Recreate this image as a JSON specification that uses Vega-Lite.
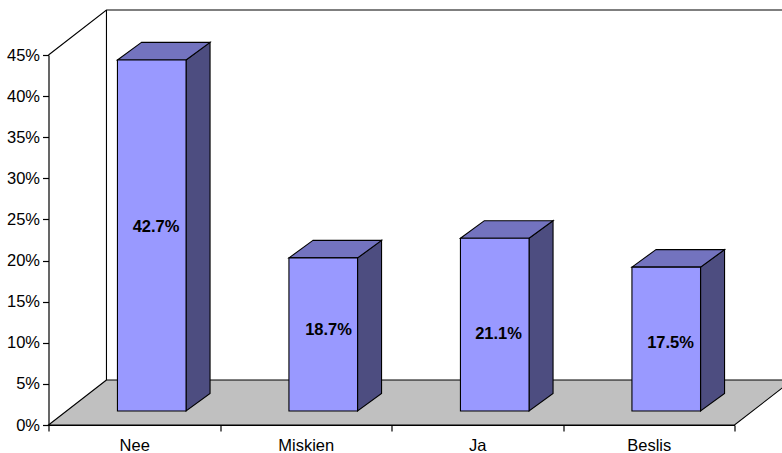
{
"$schema":"https://vega.github.io/schema/vega-lite/v6.json",
"width":686,"height":370,
"autosize":{"type":"none"},
"padding":{"left":48.5,"top":55,"right":47.5,"bottom":28},
"background":"white",
"config":{"view":{"stroke":null},"font":"Liberation Sans"},
"datasets":{
"floor":[{"y":0,"x":0,"x2":4},{"y":5.47,"x":0.338,"x2":4.338}],
"walls":[
{"edge":"top","seq":1,"x":0,"y":45},{"edge":"top","seq":2,"x":0.338,"y":50.47},{"edge":"top","seq":3,"x":4.3,"y":50.47},
{"edge":"back","seq":1,"x":0.338,"y":5.47},{"edge":"back","seq":2,"x":0.338,"y":50.47}],
"bars":[
{"category":"Nee","value":42.7,"label":"42.7%","x":0.402,"x2":0.802,"y":44.4,"y2":1.7,"labelX":0.627,"labelY":24.08},
{"category":"Miskien","value":18.7,"label":"18.7%","x":1.402,"x2":1.802,"y":20.32,"y2":1.7,"labelX":1.633,"labelY":11.56},
{"category":"Ja","value":21.1,"label":"21.1%","x":2.402,"x2":2.802,"y":22.72,"y2":1.7,"labelX":2.624,"labelY":11.07},
{"category":"Beslis","value":17.5,"label":"17.5%","x":3.402,"x2":3.802,"y":19.2,"y2":1.7,"labelX":3.627,"labelY":9.97}],
"sides":[
{"category":"Nee","x":0.802,"y":44.4,"y2":1.7},{"category":"Nee","x":0.942,"y":46.53,"y2":3.83},
{"category":"Miskien","x":1.802,"y":20.32,"y2":1.7},{"category":"Miskien","x":1.942,"y":22.45,"y2":3.83},
{"category":"Ja","x":2.802,"y":22.72,"y2":1.7},{"category":"Ja","x":2.942,"y":24.85,"y2":3.83},
{"category":"Beslis","x":3.802,"y":19.2,"y2":1.7},{"category":"Beslis","x":3.942,"y":21.33,"y2":3.83}],
"tops":[
{"category":"Nee","y":44.4,"x":0.402,"x2":0.802},{"category":"Nee","y":46.53,"x":0.542,"x2":0.942},
{"category":"Miskien","y":20.32,"x":1.402,"x2":1.802},{"category":"Miskien","y":22.45,"x":1.542,"x2":1.942},
{"category":"Ja","y":22.72,"x":2.402,"x2":2.802},{"category":"Ja","y":24.85,"x":2.542,"x2":2.942},
{"category":"Beslis","y":19.2,"x":3.402,"x2":3.802},{"category":"Beslis","y":21.33,"x":3.542,"x2":3.942}]
},
"layer":[
{"data":{"name":"floor"},
 "mark":{"type":"area","orient":"horizontal","fill":"#C0C0C0","stroke":"black","strokeWidth":1.1,"clip":false},
 "encoding":{
  "y":{"field":"y","type":"quantitative","scale":{"domain":[0,45],"nice":false},"title":null,
   "axis":{"values":[0,5,10,15,20,25,30,35,40,45],"labelExpr":"datum.value + '%'","grid":false,"domainColor":"black","domainWidth":1.2,"tickColor":"black","tickWidth":1.2,"tickSize":6,"labelFontSize":16.5,"labelColor":"black","labelPadding":3,"labelFont":"Liberation Sans"}},
  "x":{"field":"x","type":"quantitative","scale":{"domain":[0,4],"nice":false},"title":null,
   "axis":{"values":[0,1,2,3,4],"labelExpr":"['Nee','Miskien','Ja','Beslis',''][datum.value]","labelOffset":85.75,"labelOverlap":false,"labelFlush":false,"grid":false,"domainColor":"black","domainWidth":1.2,"tickColor":"black","tickWidth":1.2,"tickSize":6,"labelFontSize":16.5,"labelColor":"black","labelPadding":6,"labelFont":"Liberation Sans"}},
  "x2":{"field":"x2"}}},
{"data":{"name":"walls"},
 "mark":{"type":"line","color":"black","strokeWidth":1.1},
 "encoding":{"x":{"field":"x","type":"quantitative"},"y":{"field":"y","type":"quantitative"},"detail":{"field":"edge"},"order":{"field":"seq"}}},
{"data":{"name":"sides"},
 "mark":{"type":"area","orient":"vertical","fill":"#4D4D80","stroke":"black","strokeWidth":1.1},
 "encoding":{"x":{"field":"x","type":"quantitative"},"y":{"field":"y","type":"quantitative"},"y2":{"field":"y2"},"detail":{"field":"category"}}},
{"data":{"name":"tops"},
 "mark":{"type":"area","orient":"horizontal","fill":"#7373BF","stroke":"black","strokeWidth":1.1},
 "encoding":{"y":{"field":"y","type":"quantitative"},"x":{"field":"x","type":"quantitative"},"x2":{"field":"x2"},"detail":{"field":"category"}}},
{"data":{"name":"bars"},
 "mark":{"type":"rect","fill":"#9999FF","stroke":"black","strokeWidth":1.1},
 "encoding":{"x":{"field":"x","type":"quantitative"},"x2":{"field":"x2"},"y":{"field":"y","type":"quantitative"},"y2":{"field":"y2"}}},
{"data":{"name":"bars"},
 "mark":{"type":"text","fontSize":16.5,"fontWeight":"bold","color":"black","font":"Liberation Sans","align":"center","baseline":"middle"},
 "encoding":{"x":{"field":"labelX","type":"quantitative"},"y":{"field":"labelY","type":"quantitative"},"text":{"field":"label"}}}
]
}
